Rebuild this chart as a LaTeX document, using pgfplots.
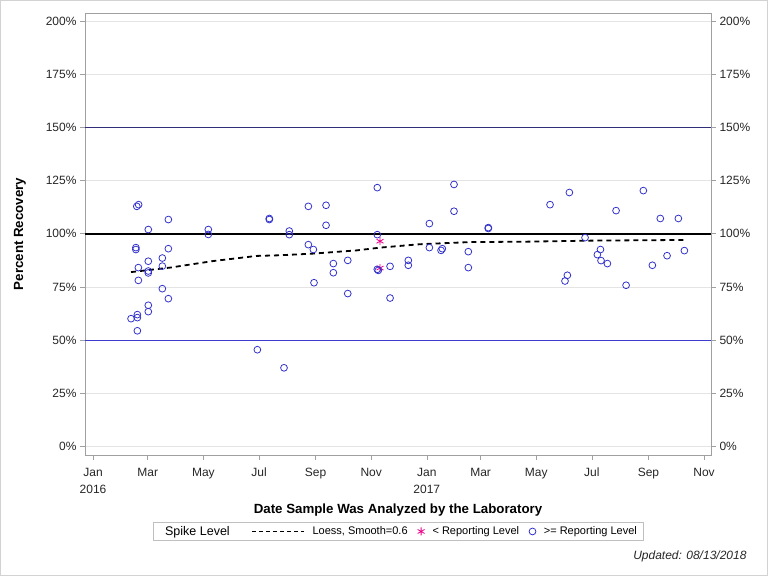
\documentclass[border=0pt]{standalone}
\usepackage{fontspec}
\setmainfont{Liberation Sans}
\usepackage{pgfplots}
\usepackage{pgfplotstable}
\pgfplotsset{compat=1.18}

\definecolor{ptblue}{RGB}{51,51,204}
\definecolor{refnavy}{RGB}{50,45,120}
\definecolor{refblue}{RGB}{60,60,210}
\definecolor{framegray}{RGB}{160,160,160}
\definecolor{gridgray}{RGB}{228,228,228}
\newcommand{\fs}[1]{\fontsize{#1}{#1}\selectfont}

% x = days since 1 Jan 2016, y = percent recovery
\pgfplotstableread{
day pct
41.7 60.1
48.0 112.9
50.0 113.7
47.0 93.5
47.0 92.6
49.7 84.1
49.7 78.1
48.6 62.0
48.6 60.6
48.6 54.4
60.6 102.0
60.6 87.1
60.6 82.5
60.6 81.6
60.6 66.4
60.6 63.4
76.0 88.6
76.0 84.8
76.0 74.2
82.6 106.7
82.6 93.0
82.6 69.5
126.4 102.0
126.4 99.7
180.2 45.5
193.3 106.7
193.3 107.2
209.4 37.0
215.2 101.3
215.2 99.6
236.1 112.9
236.1 94.9
241.6 92.6
242.3 77.0
255.5 113.4
255.5 104.0
263.5 86.0
263.5 81.7
279.3 87.5
279.3 71.9
311.7 121.7
311.7 99.6
311.7 83.3
312.8 82.8
325.7 84.7
325.7 69.8
345.7 87.5
345.7 85.2
368.8 104.8
368.8 93.5
381.6 92.2
383.0 93.0
395.8 123.2
395.8 110.6
411.5 91.6
411.5 84.1
433.4 102.9
433.4 102.5
501.1 113.7
517.5 77.8
520.1 80.5
522.3 119.4
539.5 98.2
553.0 90.2
556.4 92.6
557.0 87.4
564.0 86.0
573.5 110.9
584.5 75.8
603.4 120.3
613.3 85.2
622.0 107.2
629.4 89.7
641.8 107.2
648.4 92.1
}\abovedata

\pgfplotstableread{
day pct
314.7 96.5
314.7 83.9
}\belowdata

\pgfplotstableread{
day pct
41.7 82.0
84.4 84.1
131.9 87.2
179.5 89.6
205.0 89.9
241.6 90.7
289.1 92.2
314.7 93.5
358.6 95.1
413.4 96.1
475.5 96.3
548.6 96.8
647.3 97.1
}\loessdata

\begin{document}
\begin{tikzpicture}
\draw[gray!35, line width=1pt] (0.5pt,-0.5pt) rectangle (767.5pt,-575.5pt);

\begin{axis}[
  at={(85pt,-455pt)}, anchor=south west,
  width=626pt, height=442pt, scale only axis,
  xmin=-8.8, xmax=677.6, ymin=-4, ymax=203.8,
  axis line style={framegray},
  tick align=outside, major tick length=5pt,
  tick style={framegray, line width=0.6pt},
  xtick pos=bottom, ytick pos=left,
  xtick={0,60,121,182,244,305,366,425,486,547,609,670},
  xticklabels={\strut Jan\\2016,\strut Mar,\strut May,\strut Jul,\strut Sep,\strut Nov,\strut Jan\\2017,\strut Mar,\strut May,\strut Jul,\strut Sep,\strut Nov},
  xticklabel style={align=center, font=\fontsize{12}{17}\selectfont, text=black!85, yshift=-1pt},
  ytick={0,25,50,75,100,125,150,175,200},
  yticklabels={0\%,25\%,50\%,75\%,100\%,125\%,150\%,175\%,200\%},
  yticklabel style={font=\fs{12}, text=black!85},
  ymajorgrids, grid style={gridgray, line width=0.8pt},
  xlabel={Date Sample Was Analyzed by the Laboratory},
  xlabel style={font=\bfseries\fs{13.3}, at={(axis description cs:0.5,-0.1235)}, anchor=center},
  ylabel={Percent Recovery},
  ylabel style={font=\bfseries\fs{13.3}, at={(axis description cs:-0.1038,0.5)}, anchor=center},
  legend style={at={(0.5,-0.173)}, anchor=center, draw=gray!50, fill=white,
    legend columns=-1, font=\fs{11}, inner ysep=1.5pt, inner xsep=4pt,
    /tikz/every odd column/.append style={column sep=6pt},
    /tikz/every even column/.append style={column sep=8pt}},
  legend cell align=left,
]
% reference levels
\addplot[refnavy, line width=0.9pt, forget plot] coordinates {(-8.8,150) (677.6,150)};
\addplot[black, line width=1.8pt, forget plot] coordinates {(-8.8,100) (677.6,100)};
\addplot[refblue, line width=0.9pt, forget plot] coordinates {(-8.8,50) (677.6,50)};

\addlegendimage{empty legend}
\addlegendentry{\fs{12.5}Spike Level\hspace*{12pt}}

\addplot[black, line width=1.8pt, dash pattern=on 5pt off 4pt,
  legend image code/.code={\draw[black, line width=0.8pt, dash pattern=on 4pt off 3pt] (0pt,0pt) -- (52pt,0pt);}]
  table[x=day, y=pct] {\loessdata};
\addlegendentry{Loess, Smooth=0.6}

\addplot[only marks, mark=asterisk, mark size=4pt, magenta, mark options={line width=0.8pt}]
  table[x=day, y=pct] {\belowdata};
\addlegendentry{< Reporting Level}

\addplot[only marks, mark=o, mark size=3.4pt, ptblue, mark options={line width=0.8pt}]
  table[x=day, y=pct] {\abovedata};
\addlegendentry{>= Reporting Level}
\end{axis}

% right-hand copy of the percent scale
\begin{axis}[
  at={(85pt,-455pt)}, anchor=south west,
  width=626pt, height=442pt, scale only axis,
  xmin=-8.8, xmax=677.6, ymin=-4, ymax=203.8,
  hide x axis, axis y line*=right,
  axis line style={framegray},
  tick align=outside, major tick length=5pt,
  tick style={framegray, line width=0.6pt},
  ytick={0,25,50,75,100,125,150,175,200},
  yticklabels={0\%,25\%,50\%,75\%,100\%,125\%,150\%,175\%,200\%},
  yticklabel style={font=\fs{12}, text=black!85},
]
\end{axis}

\node[anchor=east, font=\itshape\fs{12}, text=black!85] at (750pt,-556pt) {Updated: 08/13/2018};
\end{tikzpicture}
\end{document}
